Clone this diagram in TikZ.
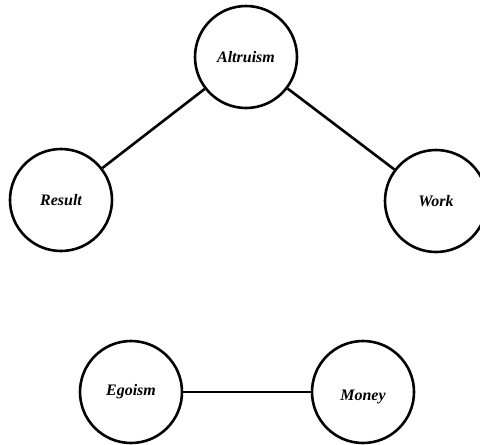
\documentclass[tikz,border=0pt]{standalone}
\usepackage{fontspec}
\setmainfont{Liberation Serif}
\begin{document}
\begin{tikzpicture}[x=1pt,y=-1pt,
  concept/.style={circle,draw=black,line width=2.6pt,minimum size=102pt,inner sep=0pt,
    font=\fontsize{16}{18}\selectfont\bfseries\itshape},
  link/.style={line width=2.6pt}]
\useasboundingbox (0,0) rectangle (480,445);
\node[concept] (alt) at (246,57) {Altruism};
\node[concept] (res) at (61,200) {Result};
\node[concept] (work) at (436,201) {Work};
\node[concept] (ego) at (131,392) {Egoism};
\node[concept] (mon) at (363,392) {\raisebox{-5pt}[\height][\depth]{Money}};
\draw[link] (alt) -- (res);
\draw[link] (alt) -- (work);
\draw[link] (ego.east) -- (mon.west);
\end{tikzpicture}
\end{document}
